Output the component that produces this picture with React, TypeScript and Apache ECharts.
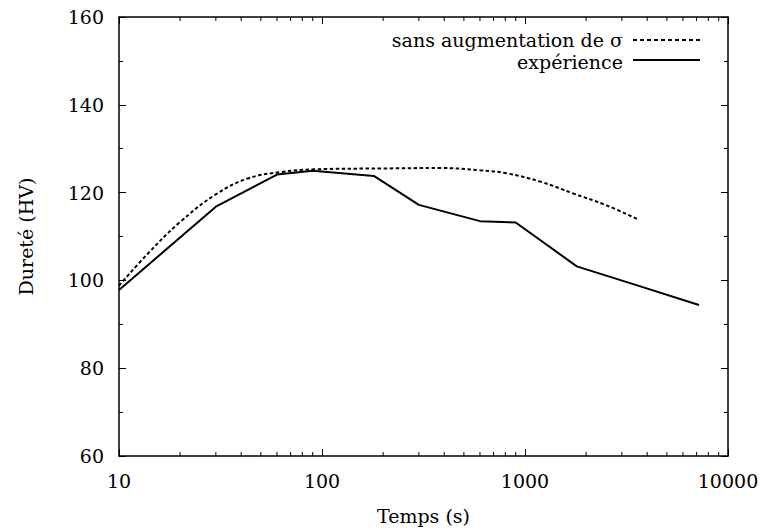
import React, { useEffect, useRef } from "react";
import * as echarts from "echarts";

const xTickValues = [10, 100, 1000, 10000];
const xMinorTicks = [20, 30, 40, 50, 60, 70, 80, 90, 200, 300, 400, 500, 600, 700, 800, 900, 2000, 3000, 4000, 5000, 6000, 7000, 8000, 9000];
const yTicks = [60, 80, 100, 120, 140, 160];

const timeSim = [10, 14, 20, 30, 43, 63, 92, 200, 380, 600, 810, 1190, 1730, 2520, 3600];
const hardnessSim = [98.8, 106.3, 113.3, 119.6, 123.2, 124.7, 125.3, 125.5, 125.6, 125.1, 124.4, 122.5, 119.8, 117.1, 113.9];

const timeExp = [10, 30, 60, 90, 180, 300, 600, 900, 1800, 3600, 7200];
const hardnessExp = [97.8, 116.8, 124.1, 125.0, 123.8, 117.2, 113.5, 113.2, 103.2, 98.8, 94.4];

const seriesNames = ["sans augmentation de σ", "expérience"];
const xName = "Temps (s)";
const yName = "Dureté (HV)";

const FONT = "DejaVu Serif";
const FS = 19;

export default function App() {
  const ref = useRef<HTMLDivElement>(null);
  useEffect(() => {
    if (!ref.current) return;
    const chart = echarts.init(ref.current, null, { renderer: "svg" });
    const xMin = xTickValues[0];
    const xMax = xTickValues[xTickValues.length - 1];
    const yMin = yTicks[0];
    const yMax = yTicks[yTicks.length - 1];
    const axisLine = { show: true, lineStyle: { color: "#000", width: 1.5 } };
    const option: any = {
      animation: false,
      backgroundColor: "#fff",
      textStyle: { fontFamily: FONT },
      grid: { left: 119, right: 34, top: 17, bottom: 75, containLabel: false, outerBoundsMode: "none" },
      xAxis: [
        {
          type: "log",
          logBase: 10,
          min: xMin,
          max: xMax,
          position: "bottom",
          name: xName,
          nameLocation: "middle",
          nameGap: 50,
          nameTextStyle: { fontFamily: FONT, fontSize: FS, color: "#000", verticalAlign: "top" },
          axisLine,
          axisTick: { show: true, inside: true, length: 7, lineStyle: { color: "#000", width: 1 } },
          minorTick: { show: false },
          axisLabel: {
            show: true,
            fontFamily: FONT,
            fontSize: FS,
            color: "#000",
            margin: 15,
            formatter: (v: number) => String(Math.round(v)),
          },
          splitLine: { show: false },
        },
        {
          type: "log",
          logBase: 10,
          min: xMin,
          max: xMax,
          position: "top",
          axisLine,
          axisTick: { show: true, inside: true, length: 7, lineStyle: { color: "#000", width: 1 } },
          axisLabel: { show: false },
          splitLine: { show: false },
        },
      ],
      yAxis: [
        {
          type: "value",
          min: yMin,
          max: yMax,
          interval: 20,
          position: "left",
          name: yName,
          nameLocation: "middle",
          nameRotate: 90,
          nameGap: 84,
          nameTextStyle: { fontFamily: FONT, fontSize: FS, color: "#000" },
          axisLine,
          axisTick: { show: true, inside: true, length: 7, lineStyle: { color: "#000", width: 1 } },
          minorTick: { show: true, splitNumber: 2, length: 4, lineStyle: { color: "#000", width: 1 } },
          axisLabel: { show: true, fontFamily: FONT, fontSize: FS, color: "#000", margin: 15 },
          splitLine: { show: false },
          minorSplitLine: { show: false },
        },
        {
          type: "value",
          min: yMin,
          max: yMax,
          interval: 20,
          position: "right",
          axisLine,
          axisTick: { show: true, inside: true, length: 7, lineStyle: { color: "#000", width: 1 } },
          minorTick: { show: true, splitNumber: 2, length: 4, lineStyle: { color: "#000", width: 1 } },
          axisLabel: { show: false },
          splitLine: { show: false },
        },
      ],
      series: [
        {
          type: "custom",
          name: "minorTicks",
          xAxisIndex: 0,
          yAxisIndex: 0,
          silent: true,
          clip: false,
          data: xMinorTicks.map((v) => [v, yMin]),
          renderItem: (params: any, api: any) => {
            const p = api.coord([api.value(0), yMin]);
            const cs = params.coordSys;
            const bottom = cs.y + cs.height;
            return {
              type: "group",
              children: [
                { type: "line", shape: { x1: p[0], y1: bottom, x2: p[0], y2: bottom - 4 }, style: { stroke: "#000", lineWidth: 1 } },
                { type: "line", shape: { x1: p[0], y1: cs.y, x2: p[0], y2: cs.y + 4 }, style: { stroke: "#000", lineWidth: 1 } },
              ],
            };
          },
        },
        {
          type: "line",
          name: seriesNames[0],
          xAxisIndex: 0,
          yAxisIndex: 0,
          data: timeSim.map((t, i) => [t, hardnessSim[i]]),
          symbol: "none",
          smooth: 0.4,
          lineStyle: { color: "#000", width: 2, type: [3.5, 2.5] },
        },
        {
          type: "line",
          name: seriesNames[1],
          xAxisIndex: 0,
          yAxisIndex: 0,
          data: timeExp.map((t, i) => [t, hardnessExp[i]]),
          symbol: "none",
          lineStyle: { color: "#000", width: 2 },
        },
      ],
      graphic: [
        {
          type: "text",
          x: 623,
          y: 40,
          style: { text: seriesNames[0], fontFamily: FONT, fontSize: FS, fill: "#000", align: "right", verticalAlign: "middle" },
        },
        {
          type: "line",
          shape: { x1: 633, y1: 40, x2: 700, y2: 40 },
          style: { stroke: "#000", lineWidth: 2, lineDash: [4, 3] },
        },
        {
          type: "text",
          x: 623,
          y: 62,
          style: { text: seriesNames[1], fontFamily: FONT, fontSize: FS, fill: "#000", align: "right", verticalAlign: "middle" },
        },
        {
          type: "line",
          shape: { x1: 633, y1: 60, x2: 700, y2: 60 },
          style: { stroke: "#000", lineWidth: 2 },
        },
      ],
    };
    chart.setOption(option);
    return () => chart.dispose();
  }, []);
  return (
    <div
      ref={ref}
      style={{ position: "fixed", left: 0, top: 0, width: 762, height: 531, background: "#fff" }}
    />
  );
}
